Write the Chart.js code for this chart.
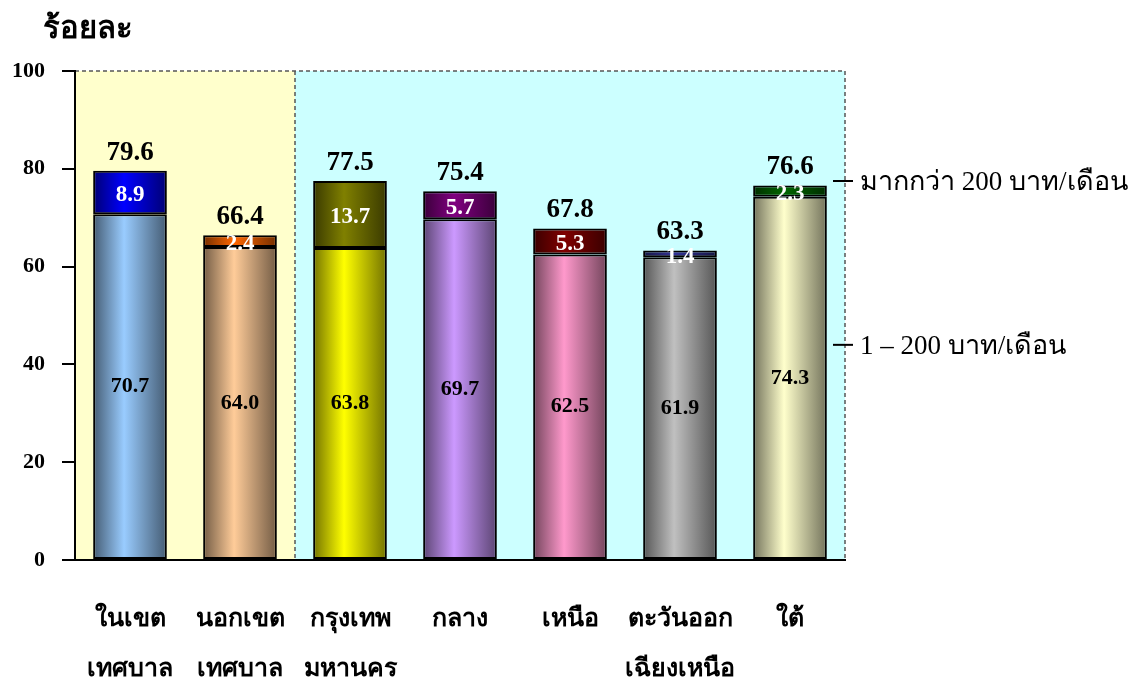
<!DOCTYPE html>
<html>
<head>
<meta charset="utf-8">
<script src="https://cdn.jsdelivr.net/npm/chart.js@4"></script>
<style>
  html, body { margin: 0; padding: 0; background: #fff; }
  #wrap { width: 1135px; height: 686px; }
</style>
</head>
<body>
<div id="wrap"><canvas id="chart" width="1135" height="686"></canvas></div>
<script>
// data
const categories = [['ในเขต', 'เทศบาล'], ['นอกเขต', 'เทศบาล'], ['กรุงเทพ', 'มหานคร'], ['กลาง'], ['เหนือ'], ['ตะวันออก', 'เฉียงเหนือ'], ['ใต้']];
const lowValues = [70.7, 64.0, 63.8, 69.7, 62.5, 61.9, 74.3];
const highValues = [8.9, 2.4, 13.7, 5.7, 5.3, 1.4, 2.3];
const totals = [79.6, 66.4, 77.5, 75.4, 67.8, 63.3, 76.6];
const yTicks = [0, 20, 40, 60, 80, 100];
const seriesNames = ['1 – 200 บาท/เดือน', 'มากกว่า 200 บาท/เดือน'];
const legendAt = [44, 77.5];   // where the side labels sit on the y scale

const lowColors = ['#99CCFF', '#FFCC99', '#FFFF00', '#CC99FF', '#FF99CC', '#C0C0C0', '#FFFFCC'];
const highColors = ['#0000FF', '#FF6600', '#808000', '#800080', '#800000', '#333399', '#006600'];

const FONT = "'Liberation Serif', 'Times New Roman', serif";
const BAR_PCT = 0.67;

// darken a hex colour
function shade(hex, f) {
  const n = parseInt(hex.slice(1), 16);
  const r = Math.round(((n >> 16) & 255) * f);
  const g = Math.round(((n >> 8) & 255) * f);
  const b = Math.round((n & 255) * f);
  return 'rgb(' + r + ',' + g + ',' + b + ')';
}

// horizontal cylinder-like shading for each bar
function barGradient(context, colors) {
  const chart = context.chart;
  const base = colors[context.dataIndex];
  const x = chart.scales.x;
  if (!x || !chart.chartArea) return base;
  const c = x.getPixelForValue(context.dataIndex);
  const w = (x.width / categories.length) * BAR_PCT;
  const g = chart.ctx.createLinearGradient(c - w / 2, 0, c + w / 2, 0);
  g.addColorStop(0, shade(base, 0.45));
  g.addColorStop(0.42, base);
  g.addColorStop(1, shade(base, 0.45));
  return g;
}

// yellow / cyan panels with dashed frame
const regionPlugin = {
  id: 'regions',
  beforeDraw(chart) {
    const ctx = chart.ctx, a = chart.chartArea, x = chart.scales.x;
    const split = (x.getPixelForValue(1) + x.getPixelForValue(2)) / 2;
    ctx.save();
    ctx.fillStyle = '#FFFFCC';
    ctx.fillRect(a.left, a.top, split - a.left, a.bottom - a.top);
    ctx.fillStyle = '#CCFFFF';
    ctx.fillRect(split, a.top, a.right - split, a.bottom - a.top);
    ctx.setLineDash([4, 3]);
    ctx.strokeStyle = '#555';
    ctx.lineWidth = 1.5;
    ctx.beginPath();
    ctx.moveTo(a.left, a.top);
    ctx.lineTo(a.right, a.top);
    ctx.lineTo(a.right, a.bottom);
    ctx.moveTo(split, a.top);
    ctx.lineTo(split, a.bottom);
    ctx.stroke();
    ctx.restore();
  }
};

// value labels, totals, side labels and y title
const labelPlugin = {
  id: 'labels',
  afterDatasetsDraw(chart) {
    const ctx = chart.ctx, a = chart.chartArea, y = chart.scales.y;
    const low = chart.getDatasetMeta(0).data;
    const high = chart.getDatasetMeta(1).data;
    ctx.save();
    ctx.textAlign = 'center';
    ctx.textBaseline = 'middle';

    ctx.fillStyle = '#000';
    ctx.font = 'bold 22px ' + FONT;
    low.forEach(function (el, i) {
      ctx.fillText(lowValues[i].toFixed(1), el.x, (el.y + el.base) / 2);
    });

    ctx.fillStyle = '#fff';
    ctx.font = 'bold 23px ' + FONT;
    high.forEach(function (el, i) {
      ctx.fillText(highValues[i].toFixed(1), el.x, (el.y + el.base) / 2 + 3);
    });

    ctx.fillStyle = '#000';
    ctx.font = 'bold 27px ' + FONT;
    ctx.textBaseline = 'alphabetic';
    high.forEach(function (el, i) {
      ctx.fillText(totals[i].toFixed(1), el.x, el.y - 11);
    });

    // side labels
    ctx.textAlign = 'left';
    ctx.textBaseline = 'middle';
    ctx.font = '27px ' + FONT;
    ctx.strokeStyle = '#000';
    ctx.lineWidth = 2;
    legendAt.forEach(function (v, i) {
      const py = y.getPixelForValue(v);
      ctx.beginPath();
      ctx.moveTo(a.right - 12, py);
      ctx.lineTo(a.right + 8, py);
      ctx.stroke();
      ctx.fillText(seriesNames[i], a.right + 15, py + 2);
    });

    // y title
    ctx.font = 'bold 31px ' + FONT;
    ctx.fillText('ร้อยละ', 43, 30);
    ctx.restore();
  }
};

const data = {
  labels: categories,
  datasets: [
    {
      label: seriesNames[0],
      data: lowValues,
      backgroundColor: function (c) { return barGradient(c, lowColors); },
      borderColor: '#000',
      borderWidth: 2,
      borderSkipped: false
    },
    {
      label: seriesNames[1],
      data: highValues,
      backgroundColor: function (c) { return barGradient(c, highColors); },
      borderColor: '#000',
      borderWidth: 2,
      borderSkipped: false
    }
  ]
};

const config = {
  type: 'bar',
  data: data,
  options: {
    responsive: false,
    animation: false,
    events: [],
    layout: { padding: { left: 10, right: 290, top: 71, bottom: 0 } },
    datasets: { bar: { categoryPercentage: 1, barPercentage: BAR_PCT } },
    plugins: { legend: { display: false }, tooltip: { enabled: false } },
    scales: {
      x: {
        stacked: true,
        grid: { display: false, drawTicks: false },
        border: { display: true, color: '#000', width: 2 },
        ticks: {
          color: '#000',
          padding: 35,
          maxRotation: 0,
          autoSkip: false,
          font: { family: FONT, size: 25, weight: 'bold', lineHeight: 2.0 }
        },
        afterFit: function (scale) {
          // labels may run past the canvas bottom, as in the original
          scale.height = 126;
          scale.paddingLeft = 0;
          scale.paddingRight = 0;
        }
      },
      y: {
        stacked: true,
        min: 0,
        max: 100,
        afterBuildTicks: function (scale) {
          scale.ticks = yTicks.map(function (v) { return { value: v }; });
        },
        afterFit: function (scale) { scale.width = 65; },
        grid: { drawOnChartArea: false, drawTicks: true, tickLength: 13, color: '#000', lineWidth: 2 },
        border: { display: true, color: '#000', width: 2 },
        ticks: {
          color: '#000',
          padding: 17,
          font: { family: FONT, size: 22, weight: 'bold' }
        }
      }
    }
  },
  plugins: [regionPlugin, labelPlugin]
};

function createChart() {
  const canvas = document.getElementById('chart');
  if (canvas) {
    new Chart(canvas, config);
  }
}

window.addEventListener('load', createChart);
</script>
</body>
</html>
